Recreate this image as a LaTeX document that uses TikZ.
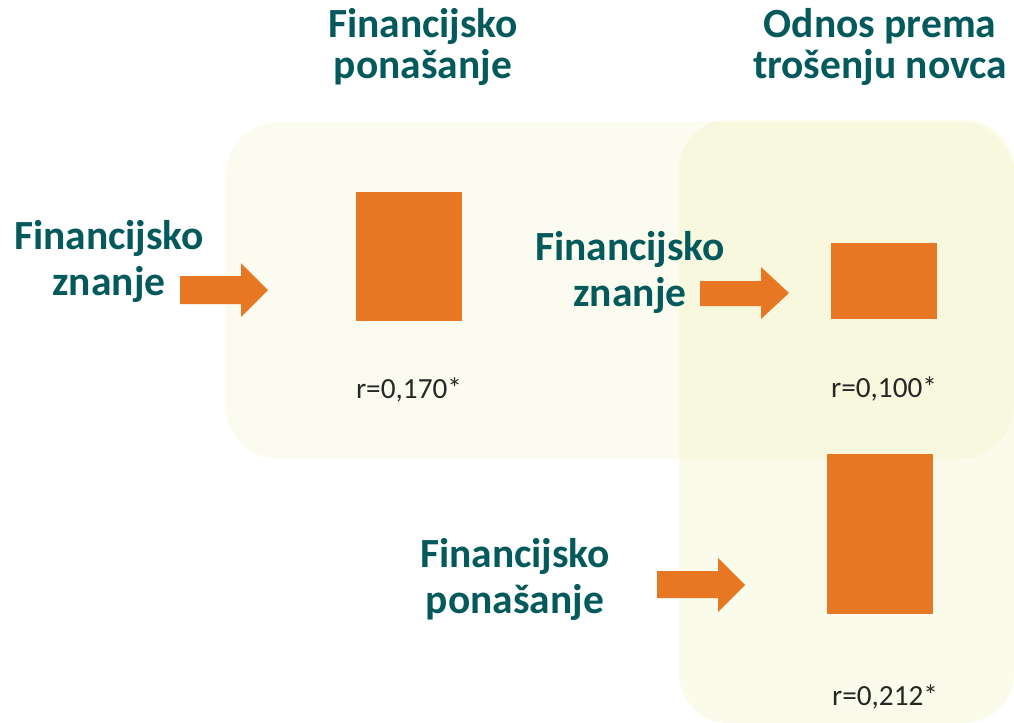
\documentclass[tikz,border=0pt]{standalone}
\usepackage{fontspec}
\setmainfont{Carlito}
\usepackage{tikz}
\usetikzlibrary{positioning}
\definecolor{headteal}{HTML}{03595C}
\definecolor{barorange}{HTML}{E77722}
\definecolor{panelyellow}{HTML}{E3E682}
\definecolor{labelgray}{HTML}{262626}

\begin{document}
\begin{tikzpicture}[x=0.025cm, y=-0.025cm,
  heading/.style={text=headteal, font=\fontsize{29.5}{32.5}\selectfont\bfseries, align=center, inner sep=0pt, anchor=base},
  topheading/.style={heading, font=\fontsize{29.5}{29}\selectfont\bfseries},
  rlabel/.style={text=labelgray, font=\fontsize{20.8}{24}\selectfont, inner sep=0pt, anchor=base}]
  \useasboundingbox (0,0) rectangle (1014,723);

  % Panels
  \fill[panelyellow, opacity=0.13, rounded corners=39pt] (225,122) rectangle (1014,459);
  \fill[panelyellow, opacity=0.17, rounded corners=35pt] (679,120) rectangle (1014,723);

  % Headings (base = last line)
  \node[topheading] (ponasanjetop) at (423,78) {Financijsko\\ponašanje};
  \node[topheading] (odnos) at (880,78) {Odnos prema\\trošenju novca};
  \node[heading] (znanjeleft) at (109,295) {Financijsko\\znanje};
  \node[heading] (znanjemid) at (630,306) {Financijsko\\znanje};
  \node[heading] (ponasanjebot) at (515,613) {Financijsko\\ponašanje};

  % Bars
  \fill[barorange] (356,192) rectangle (462,321);
  \fill[barorange] (831,243) rectangle (937,319);
  \fill[barorange] (827,454) rectangle (933,614);

  % Arrows
  \fill[barorange] (180,276) -- (241,276) -- (241,263) -- (268,290) -- (241,317) -- (241,304) -- (180,304) -- cycle;
  \fill[barorange] (700,281) -- (761,281) -- (761,267) -- (789,293) -- (761,319) -- (761,306) -- (700,306) -- cycle;
  \fill[barorange] (657,571) -- (718,571) -- (718,558) -- (745,585) -- (718,612) -- (718,598) -- (657,598) -- cycle;

  % Correlations
  \node[rlabel] (rznanjepon) at (409,398) {r=0,170*};
  \node[rlabel] (rznanjeodn) at (884,397) {r=0,100*};
  \node[rlabel] (rponodn) at (885,705) {r=0,212*};
\end{tikzpicture}
\end{document}
